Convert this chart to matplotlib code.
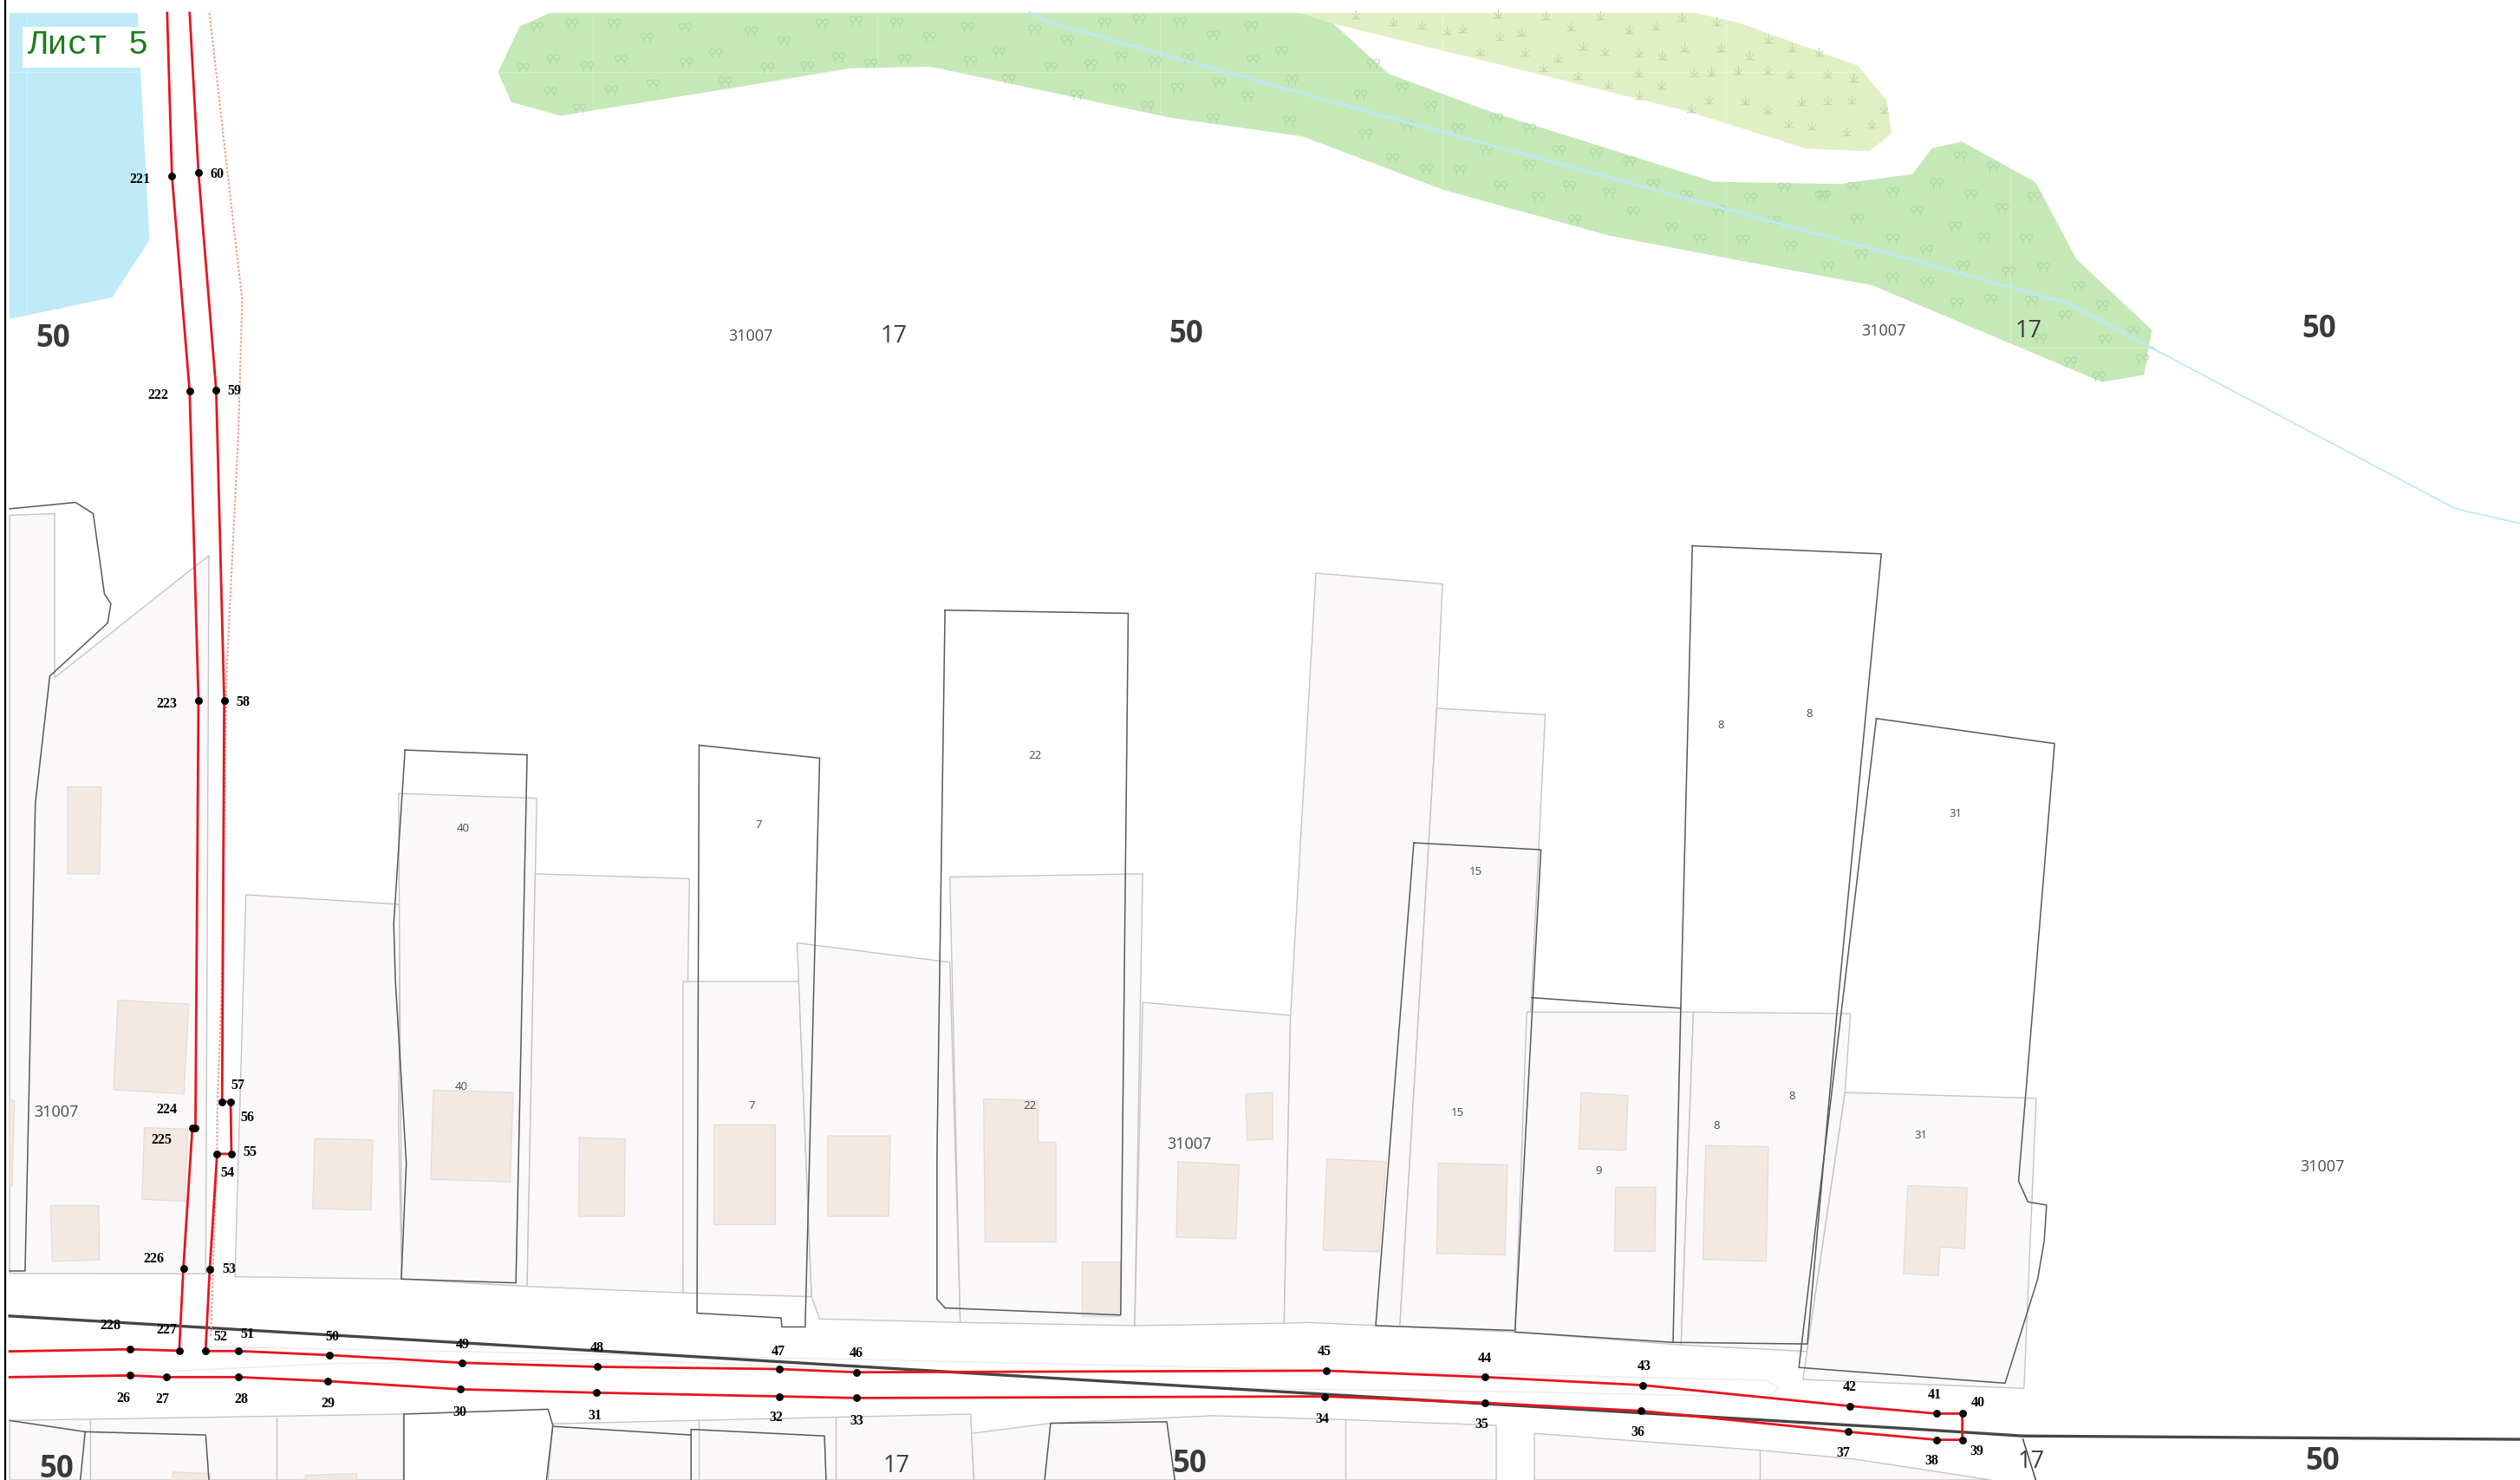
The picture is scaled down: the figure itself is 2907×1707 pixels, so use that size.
#!/usr/bin/env python3
import matplotlib
matplotlib.use('Agg')
import matplotlib.pyplot as plt
from matplotlib.patches import Polygon
from matplotlib.path import Path

# map coordinates below are in a 1568 x 921 sheet, y going down
water = [(5.9, 8.6), (85.6, 8.6), (93, 150), (69.8, 185.5), (5.9, 199)]
forest = [(342, 8.6), (323.4, 17), (309.9, 45.3), (318, 64), (348.6, 72.5), (460.5, 54.5), (529, 43), (579, 42),
          (728, 73.7), (810.5, 85.4), (898.5, 118.7), (1001, 147), (1074, 161), (1165, 178), (1308, 238.2),
          (1334, 233.7), (1339, 205.8), (1292, 161.7), (1266.6, 113.9), (1220.7, 88.6), (1202, 92.8), (1190, 108.8),
          (1144.6, 115), (1066.4, 113.6), (927.4, 70), (864, 46.4), (829.7, 15.3), (809, 8.6)]
meadow = [(809, 8.6), (829.7, 15.3), (941, 42.6), (1051, 70), (1124, 93), (1163, 94.6), (1177, 83.6), (1174, 63),
          (1156, 41.3), (1081, 14.4), (1055, 8.6)]
stream = [(640.8, 8.6), (656, 15.3), (841.4, 67.4), (1188.8, 161.8), (1287.3, 189.3), (1340, 217.5)]
stream_out = [(1340, 217.5), (1528, 317), (1568, 326)]

# seams between map tiles, visible on the coloured areas
seam_x = [16.5, 369, 545.6, 721.7, 897.6, 1074, 1250.8]
seam_y = [45.5, 216.7]

parcels = [
    [(6, 321), (34, 320), (34, 422), (130, 346), (128, 792.7), (6, 792.5)],
    [(153, 557), (249, 563), (248, 700), (250, 796), (146.2, 794.6)],
    [(248, 494), (334, 497), (328, 800.6), (250, 796)],
    [(333, 544), (429, 547), (425, 804.6), (328, 800.6)],
    [(425, 611), (497, 611), (505, 807), (425, 804.6)],
    [(496, 587), (591, 599), (597.5, 823), (510, 820.8), (505, 807)],
    [(591, 546), (711, 544), (706, 825), (597.5, 823)],
    [(711, 624), (803, 632), (799, 823.5), (706, 825)],
    [(818.8, 357), (897.6, 363.7), (894, 441), (871, 825.6), (813, 823), (799, 823.5), (803, 632)],
    [(894, 441), (961.5, 445), (942.7, 829), (871, 825.6)],
    [(950, 630), (1053.7, 630), (1046, 837), (942.7, 829)],
    [(1053.7, 630), (1151.4, 631), (1148, 680), (1124.4, 841), (1046, 837)],
    [(1148, 680), (1267, 683.6), (1259.4, 864), (1121.8, 858.5)],
    [(6, 884), (251, 880), (251, 921), (6, 921)],
    [(344, 886), (604, 880), (606, 921), (341, 921)],
    [(604.5, 892), (653.7, 885.7), (755, 881), (837, 883.5), (931, 887), (931, 921), (606, 921)],
    [(954.7, 892), (1095, 902.5), (1154, 908), (1239, 921), (954.7, 921)],
]
parcel_splits = [[(56, 884), (56, 921)], [(172, 882), (172, 921)], [(435, 884), (435, 921)], [(519.8, 882), (519.8, 921)],
                 [(837, 883.5), (837, 921)], [(1095, 902.5), (1095, 921)]]

outlines = [
    [(6, 317), (47, 313), (58, 320), (65, 370), (69, 376), (67, 388), (31, 421), (22, 500), (15.6, 791), (6, 791)],
    [(252, 467), (328, 470), (321, 798.4), (249.7, 796), (252.8, 724), (246, 610), (245, 575), (252, 467)],
    [(435, 464), (510, 472), (501, 825.8), (486.5, 825.8), (486, 820.2), (433.7, 817.2), (435, 464)],
    [(588, 380), (702, 382), (697.3, 818.4), (588, 814), (583, 808.5), (583, 720), (588, 380)],
    [(879.7, 524.7), (958.8, 529), (942.7, 828), (856, 825), (879.7, 524.7)],
    [(953, 621), (1045.8, 627.6)],
    [(942.7, 829), (1041, 835.4)],
    [(1053, 340), (1170.6, 345), (1143, 630), (1124.6, 836.4), (1041, 835.4), (1045.8, 627.6), (1053, 340)],
    [(1167.5, 447.4), (1278.4, 463), (1256, 735), (1261.8, 748), (1273.4, 750), (1272, 772), (1267.9, 796),
     (1247.6, 860.8), (1119.3, 851), (1167.5, 447.4)],
    [(251.6, 880), (341, 877), (344, 887), (340, 921)],
    [(251.6, 880), (251.6, 921)],
    [(344.8, 887.7), (430, 893)],
    [(430, 921), (430, 889.5), (513, 893.6), (514, 921)],
    [(650, 921), (653.7, 885.7), (726, 884.8), (731, 921)],
    [(6, 884), (53, 891), (128, 893), (130, 921)],
    [(53, 891), (50, 921)],
]

buildings = [
    [(42, 490), (63, 490), (62, 544), (42, 544)],
    [(73.4, 622.6), (117.5, 625), (114.4, 680.8), (70.6, 678.3)],
    [(89.8, 701.9), (116.8, 702.8), (115, 747.6), (88.4, 746.4)],
    [(31.5, 750.4), (61.4, 750.4), (61.9, 784), (32.5, 785)],
    [(6, 685), (9, 685), (7.5, 738), (6, 738)],
    [(195.8, 708.6), (232, 709.5), (230.7, 753.1), (194.6, 752.2)],
    [(269.7, 678.6), (319.3, 680), (317.4, 735.5), (268, 734)],
    [(360.5, 708), (389, 709), (388.5, 757), (360, 757)],
    [(444, 700), (482, 700), (482, 762), (444, 762)],
    [(515, 707), (554, 707), (553, 757), (515, 757)],
    [(612, 684), (646, 685), (646, 711), (657, 711), (657, 773), (613, 773)],
    [(673, 785), (697, 785), (697, 819), (673, 819)],
    [(733, 723), (771, 725), (769, 771), (732, 770)],
    [(775, 681), (791.7, 680), (792, 708.9), (776, 709.7)],
    [(825.6, 721.4), (862.4, 723), (858, 779), (823.2, 778)],
    [(895, 724), (938, 725), (936.4, 781), (894, 780)],
    [(983.9, 680), (1013, 682), (1011.4, 716), (982.5, 715)],
    [(1005.3, 739), (1030.2, 739), (1029.6, 778.7), (1004.6, 778.7)],
    [(1061.3, 713), (1100.3, 713.7), (1099, 784.9), (1059.6, 783.8)],
    [(1187, 737.9), (1224, 739.3), (1222.4, 777), (1207.2, 776), (1206, 794), (1184.4, 792.6)],
    [(107.6, 916), (131, 917), (131, 921), (107, 921)],
    [(190, 918), (222, 917), (222, 921), (190, 921)],
]

road_line = [(6, 819), (377.5, 841), (755, 863.6), (1186.6, 889), (1258.5, 893.6), (1568, 895.7)]
road_tick = [(1258.7, 895.6), (1266.7, 921)]
median_up = [(128, 838), (533, 846), (755, 851), (1099, 859), (1107, 863.9), (1099, 869.3), (920, 865.7), (755, 864)]
median_low = [(6, 858), (204.7, 848.7), (377, 846), (533, 852)]
pink_line = [(130.3, 8.6), (142, 111.5), (150.7, 187), (148.3, 270), (141, 420), (137.8, 620), (135.3, 686), (135, 718),
             (131.2, 831.5)]

# boundary points: number, point x, point y, label x, label y
west_pts = [('221', 107, 110, 87, 111), ('222', 118, 244, 98.5, 245), ('223', 123.5, 436, 104, 437),
            ('224', 121.6, 702, 103.8, 689.4), ('225', 119.7, 702, 100.4, 708.6), ('226', 114.1, 789.2, 95.8, 782.3),
            ('227', 111.5, 840.6, 103.8, 826.6), ('228', 81.1, 839.7, 68.6, 823.8)]
east_pts = [('60', 123.5, 108, 135, 107.5), ('59', 134.5, 243, 146, 242.5), ('58', 139.5, 436, 151, 436),
            ('57', 138.2, 685.7, 148, 674.6), ('56', 143.5, 685.7, 154, 694.6), ('55', 144, 718.2, 155.3, 716),
            ('54', 135.1, 718.2, 141.6, 728.7), ('53', 130.5, 790, 142.5, 788.6), ('52', 127.9, 840.8, 137, 830.7),
            ('51', 148.6, 840.8, 154, 829), ('50', 204.7, 843.3, 206.8, 830.9), ('49', 287.3, 848.1, 287.7, 835.7),
            ('48', 371.5, 850.6, 371.5, 837.8), ('47', 485, 852, 484, 840), ('46', 533, 854, 533, 841),
            ('45', 825, 853, 824, 840), ('44', 924, 857, 924, 844), ('43', 1022, 862, 1023, 849),
            ('42', 1151, 875, 1151, 862), ('41', 1205, 879.7, 1204, 867), ('40', 1221, 879.7, 1231, 872),
            ('39', 1221, 896, 1230, 902), ('38', 1205, 896, 1202, 908), ('37', 1150, 891, 1147, 903),
            ('36', 1021, 878, 1019, 890), ('35', 924, 873, 922, 885), ('34', 824, 869, 823, 882),
            ('33', 533, 870, 533, 883), ('32', 485, 869, 483, 881), ('31', 371, 866.7, 370.3, 879.8),
            ('30', 286.5, 864.6, 286, 877.5), ('29', 204, 859.5, 204.2, 872.3), ('28', 148.3, 857, 150, 869.8),
            ('27', 103.5, 857, 101, 869.8), ('26', 80.9, 856, 76.8, 868.9)]
west_start = (104, 8.6)
west_end = (6, 841)
east_start = (118, 8.6)
east_end = (6, 857)

block_x = [467, 1172, 35, 740, 1445]
block_y = [209, 206, 692, 712, 726]
quarter_x = [556, 1262, 558, 1264]
quarter_y = [209, 206, 912, 909]
region_x = [33, 738, 1443, 35, 740, 1445]
region_y = [211, 208, 205, 914, 911, 909]
house_nums = ['40', '40', '7', '7', '22', '22', '15', '15', '8', '8', '8', '8', '31', '31', '9']
house_x = [288, 287, 472, 468, 644, 641, 918, 907, 1071, 1126, 1068, 1115, 1217, 1195, 995]
house_y = [515, 676, 513, 688, 470, 688, 542, 692, 451, 444, 700, 682, 506, 706, 728]

trees_a = [(93, 95), (155, 83), (232, 85), (360, 98), (291, 133), (480, 110), (540, 143), (608, 85), (670, 75), (743, 80),
           (872, 95), (992, 105), (1052, 140), (803, 130), (1120, 82), (1183, 70), (1256, 77), (1384, 92), (1316, 125),
           (123, 208), (67, 238), (184, 230), (245, 210), (363, 218), (416, 187), (510, 238), (582, 230), (638, 200),
           (697, 222), (758, 207), (876, 214), (928, 183), (1022, 235), (1094, 226), (1150, 197), (1210, 216),
           (1270, 203), (1388, 210), (1440, 180), (118, 322), (228, 314), (302, 293), (433, 286), (945, 277),
           (1146, 310), (1070, 330), (1252, 305), (1326, 287), (1458, 278), (1378, 335), (1197, 370), (1316, 410),
           (1453, 420), (170, 378)]
trees_b = [(229, 307), (294, 368), (357, 448), (420, 520), (444, 410), (517, 447), (585, 523), (668, 530), (743, 560),
           (517, 573), (452, 646), (538, 684), (607, 646), (698, 668), (797, 640), (873, 678), (946, 728), (753, 736),
           (839, 790), (904, 828), (1000, 830), (1108, 852), (619, 763), (1017, 688), (1178, 680), (1070, 765),
           (1093, 650), (360, 590), (284, 587), (208, 548), (147, 465), (242, 437), (136, 330), (165, 222)]
trees_c = [(483, 122), (598, 158), (402, 216), (518, 255), (250, 245), (114, 228), (12, 258), (334, 312), (127, 340),
           (628, 303), (739, 265), (465, 366), (565, 404), (712, 407), (250, 408), (365, 446), (140, 463), (25, 505),
           (492, 500), (652, 521), (770, 506), (890, 574), (975, 638), (1083, 727), (250, 543), (370, 557), (470, 630),
           (589, 618), (729, 623), (845, 674), (984, 758), (758, 752), (863, 834), (963, 884), (1112, 826)]
grass_b = [(125, 55), (210, 78), (275, 90), (332, 107), (367, 103), (447, 50), (555, 58), (678, 57), (862, 62), (941, 77),
           (612, 97), (743, 104), (803, 93), (500, 113), (450, 128), (405, 180), (508, 183), (583, 205), (640, 162),
           (688, 180), (764, 185), (818, 195), (868, 168), (950, 168), (1058, 137), (1111, 167), (1016, 194), (1173, 183),
           (548, 238), (627, 264), (765, 256), (889, 256), (929, 252), (990, 247), (1056, 247), (1108, 258), (1191, 258),
           (1251, 272), (696, 295), (816, 298), (766, 333), (884, 378), (923, 348), (1005, 350), (1056, 380), (1133, 353),
           (1191, 352), (1246, 348), (1319, 380), (1103, 430), (1156, 437), (1234, 460), (1291, 433)]


def from_crop(pts, x0, y0, fx, fy):
    return [((x0 + px / fx) / 1.854, (y0 + py / fy) / 1.854) for px, py in pts]


def xs(pts):
    return [p[0] for p in pts]


def ys(pts):
    return [p[1] for p in pts]


# two small trees side by side, y flipped because markers live in display space
def tree_marker():
    parts = []
    for dx in (-3.6, 3.6):
        circle = Path.circle((dx, 2.2), 2.9)
        stem = Path([(dx, -0.7), (dx, -5.5)], [Path.MOVETO, Path.LINETO])
        parts += [circle, stem]
    return Path.make_compound_path(*parts)


def grass_marker():
    verts = [(-4, -3), (4, -3), (0, -3), (0, 4), (0, -3), (-3, 1.5), (0, -3), (3, 1.5)]
    codes = [Path.MOVETO, Path.LINETO, Path.MOVETO, Path.LINETO, Path.MOVETO, Path.LINETO, Path.MOVETO, Path.LINETO]
    return Path(verts, codes)


fig = plt.figure(figsize=(29.07, 17.08), dpi=100)
ax = fig.add_axes([0, 0, 1, 1])
ax.set_xlim(0, 1568)
ax.set_ylim(921, 0)
ax.axis('off')

# border on the left side
ax.plot([3, 3], [0, 921], color='black', lw=1.6, zorder=9)

water_patch = ax.add_patch(Polygon(water, closed=True, fc='#bfeaf8', ec='none', zorder=1))
meadow_patch = ax.add_patch(Polygon(meadow, closed=True, fc='#e1f0c4', ec='none', zorder=1))
forest_patch = ax.add_patch(Polygon(forest, closed=True, fc='#c5e8b7', ec='none', zorder=1))

# tile seams stay inside the coloured area they cross
for patch, colour in [(water_patch, '#d2f1fb'), (meadow_patch, '#ecf6d8'), (forest_patch, '#d6f0ca')]:
    for x in seam_x:
        ax.plot([x, x], [0, 921], color=colour, lw=0.7, zorder=1.5, clip_path=patch)
    for y in seam_y:
        ax.plot([0, 1568], [y, y], color=colour, lw=0.7, zorder=1.5, clip_path=patch)

tree_pts = from_crop(trees_a, 560, 0, 1.568, 3) + from_crop(trees_b, 1500, 0, 1.96, 3) + from_crop(trees_c, 2100, 140, 3, 3)
ax.plot(xs(tree_pts), ys(tree_pts), ls='none', marker=tree_marker(), ms=10, mfc='none', mec='#a9d2a2', mew=0.6, zorder=2)
grass_pts = from_crop(grass_b, 1500, 0, 1.96, 3)
ax.plot(xs(grass_pts), ys(grass_pts), ls='none', marker=grass_marker(), ms=8, mfc='none', mec='#c2d8ab', mew=0.8, zorder=2)

ax.plot(xs(stream), ys(stream), color='#bde8ee', lw=2.4, zorder=3)
ax.plot(xs(stream_out), ys(stream_out), color='#b8e8f6', lw=1.2, zorder=3)

for p in parcels:
    ax.add_patch(Polygon(p, closed=True, fc='#faf8f9', ec='#c6c4c4', lw=1.0, zorder=4))
for s in parcel_splits:
    ax.plot(xs(s), ys(s), color='#c6c4c4', lw=1.0, zorder=4)
for b in buildings:
    ax.add_patch(Polygon(b, closed=True, fc='#f2e9e3', ec='#e6dcd3', lw=0.9, zorder=5))
for o in outlines:
    ax.plot(xs(o), ys(o), color='#5a5a5a', lw=1.1, zorder=6)

ax.plot(xs(median_up), ys(median_up), color='#ebebeb', lw=1.0, zorder=3)
ax.plot(xs(median_low), ys(median_low), color='#ebebeb', lw=1.0, zorder=3)
ax.plot(xs(road_line), ys(road_line), color='#454545', lw=2.4, solid_joinstyle='round', zorder=7)
ax.plot(xs(road_tick), ys(road_tick), color='#454545', lw=1.1, zorder=7)
ax.plot(xs(pink_line), ys(pink_line), color='#f29c92', lw=1.5, ls=(0, (1.2, 1)), zorder=7)

# red boundary lines with their points
wx = [west_start[0]] + [p[1] for p in west_pts] + [west_end[0]]
wy = [west_start[1]] + [p[2] for p in west_pts] + [west_end[1]]
ex = [east_start[0]] + [p[1] for p in east_pts] + [east_end[0]]
ey = [east_start[1]] + [p[2] for p in east_pts] + [east_end[1]]
ax.plot(wx, wy, color='#e8141e', lw=2.0, zorder=8)
ax.plot(ex, ey, color='#e8141e', lw=2.0, zorder=8)
for name, px, py, lx, ly in west_pts + east_pts:
    ax.plot(px, py, marker='o', ms=6.4, color='black', mew=0, zorder=10)
    ax.text(lx, ly + 0.7, name, fontsize=11.5, family='Liberation Serif', weight='bold', ha='center', va='center', color='black', zorder=11)

for x, y in zip(block_x, block_y):
    ax.text(x, y, '31007', fontsize=13, family='Open Sans', color='#4a4a4a', ha='center', va='center', zorder=11)
for x, y in zip(quarter_x, quarter_y):
    ax.text(x, y, '17', fontsize=19.5, family='Open Sans', color='#3a3a3a', ha='center', va='center', zorder=11)
for x, y in zip(region_x, region_y):
    ax.text(x, y, '50', fontsize=25, family='Open Sans', weight='bold', color='#3a3a3a', ha='center', va='center', zorder=11)
for name, x, y in zip(house_nums, house_x, house_y):
    ax.text(x, y, name, fontsize=9.5, family='Open Sans', color='#4a4a4a', ha='center', va='center', zorder=11)

# white box behind the sheet title, narrower than the text like on the sheet
ax.fill([14, 87.2, 87.2, 14], [17, 17, 42.6, 42.6], color='white', lw=0, zorder=11.5)
ax.text(54.5, 28, 'Лист 5', fontsize=28, family='Liberation Mono', color='#1f7a1f', ha='center', va='center', zorder=12)

fig.savefig('out.png', dpi=100)
